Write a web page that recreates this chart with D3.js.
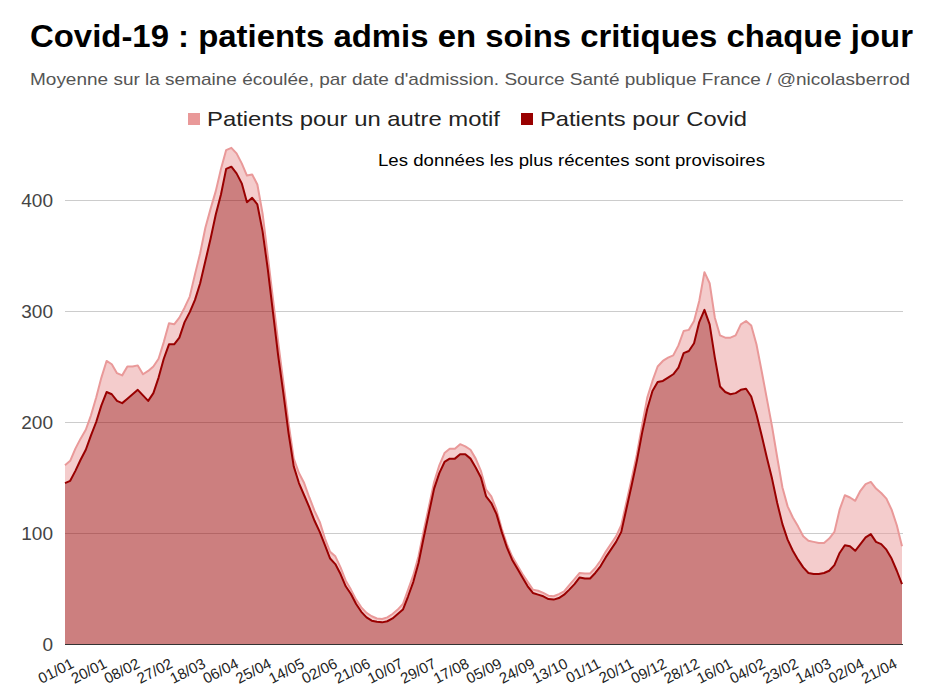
<!DOCTYPE html>
<html>
<head>
<meta charset="utf-8">
<script src="https://cdn.jsdelivr.net/npm/d3@7"></script>
<style>
  html, body { margin: 0; padding: 0; background: #fff; }
  svg { display: block; font-family: Arial, "Liberation Sans", sans-serif; }
</style>
</head>
<body>
<svg id="chart"></svg>
<script>
// one value every 3 days, starting on 1 January 2021
const startDate = '2021-01-01';
const stepDays = 3;

// patients admitted for Covid (7-day average)
const covidValues = [
  145, 147, 156, 166, 175, 188, 200, 215, 227, 225,
  219, 217, 221, 225, 229, 224, 219, 226, 240, 257,
  270, 270, 276, 290, 299, 310, 325, 345, 365, 387,
  405, 428, 430, 424, 415, 398, 402, 396, 372, 338,
  299, 260, 226, 190, 160, 145, 134, 123, 111, 101,
  89, 77, 72, 63, 52, 45, 36, 29, 24, 21,
  20, 19.5, 20.5, 23, 27, 31, 43, 56, 73, 96,
  118, 140, 154, 164, 167, 167, 171, 171, 167, 159,
  150, 133, 127, 117, 101, 87, 76, 68, 60, 52,
  46, 44.5, 43, 40.5, 40, 41.4, 44.4, 49, 54, 60,
  59, 59, 64, 70, 78, 85, 92, 101, 122, 143,
  165, 190, 212, 228, 236, 237, 240, 243, 249, 262,
  264, 271, 290, 301, 288, 258, 232, 227, 225, 226,
  229, 230, 223, 207, 188, 168, 149, 127, 108, 94,
  84, 76, 69, 64, 63, 63, 64, 66, 71, 82,
  89, 88, 84, 90, 96, 99, 92, 90, 85, 77,
  66, 54,
];

// all patients admitted (Covid + other reason)
const totalValues = [
  161, 165, 176, 185, 193, 206, 222, 240, 255, 252,
  244, 242, 250, 250, 251, 243, 246, 250, 257, 272,
  289, 288, 294, 303, 313, 333, 352, 375, 392, 408,
  428, 445, 447, 442, 433, 422, 423, 414, 388, 350,
  311, 272, 236, 199, 167, 154, 145, 132, 120, 110,
  95, 83, 79, 69, 57, 49, 40, 33, 28, 25,
  23, 22.5, 24, 27, 31, 36, 49, 62, 79, 102,
  124, 146, 161, 172, 176, 176, 180, 178, 175, 167,
  156, 139, 133, 121, 104, 90, 79, 71, 63, 56,
  49, 48, 46, 43.5, 43, 45, 47.4, 53, 58.5, 64,
  63.5, 63.5, 68.5, 75, 83, 90, 97, 107, 128, 149,
  171, 197, 222, 237, 250, 255, 258, 260, 269, 282,
  283, 291, 309, 335, 325, 294, 278, 276, 276, 278,
  288, 291, 287, 270, 246, 221, 196, 168, 141, 124,
  114, 106, 97, 93, 92, 91, 91, 95, 101, 121,
  134, 132, 129, 138, 144, 146, 140, 136, 131, 121,
  107, 88,
];

const xTickDates = [
  '2021-01-01', '2021-01-20', '2021-02-08', '2021-02-27', '2021-03-18',
  '2021-04-06', '2021-04-25', '2021-05-14', '2021-06-02', '2021-06-21',
  '2021-07-10', '2021-07-29', '2021-08-17', '2021-09-05', '2021-09-24',
  '2021-10-13', '2021-11-01', '2021-11-20', '2021-12-09', '2021-12-28',
  '2022-01-16', '2022-02-04', '2022-02-23', '2022-03-14', '2022-04-02',
  '2022-04-21',
];
const yTicks = [0, 100, 200, 300, 400];

const seriesNames = ['Patients pour un autre motif', 'Patients pour Covid'];
const seriesColors = ['#e99999', '#990000'];

const titleText = 'Covid-19 : patients admis en soins critiques chaque jour';
const subtitleText = "Moyenne sur la semaine écoulée, par date d'admission. Source Santé publique France / @nicolasberrod";
const noteText = 'Les données les plus récentes sont provisoires';

const width = 933;
const height = 696;
const plot = { left: 65, right: 903, top: 200, bottom: 644 };

const parse = d3.utcParse('%Y-%m-%d');
const start = parse(startDate);

const data = covidValues.map((covid, i) => ({
  date: d3.utcDay.offset(start, i * stepDays),
  covid,
  total: totalValues[i],
}));

const svg = d3.select('#chart').attr('width', width).attr('height', height);

const x = d3
  .scaleUtc()
  .domain([start, data[data.length - 1].date])
  .range([plot.left, plot.right - 1]);

const y = d3.scaleLinear().domain([0, 400]).range([plot.bottom, plot.top]);

// gridlines
svg
  .append('g')
  .selectAll('line')
  .data(yTicks.filter((t) => t > 0))
  .join('line')
  .attr('x1', plot.left)
  .attr('x2', plot.right)
  .attr('y1', (d) => y(d) + 0.5)
  .attr('y2', (d) => y(d) + 0.5)
  .attr('stroke', '#cccccc')
  .attr('stroke-width', 1);

// stacked areas
const covidArea = d3
  .area()
  .x((d) => x(d.date))
  .y0(y(0))
  .y1((d) => y(d.covid));

const otherArea = d3
  .area()
  .x((d) => x(d.date))
  .y0((d) => y(d.covid))
  .y1((d) => y(d.total));

svg
  .append('path')
  .datum(data)
  .attr('d', otherArea)
  .attr('fill', seriesColors[0])
  .attr('fill-opacity', 0.5);

svg
  .append('path')
  .datum(data)
  .attr('d', covidArea)
  .attr('fill', seriesColors[1])
  .attr('fill-opacity', 0.5);

svg
  .append('path')
  .datum(data)
  .attr('d', d3.line().x((d) => x(d.date)).y((d) => y(d.total)))
  .attr('fill', 'none')
  .attr('stroke', seriesColors[0])
  .attr('stroke-width', 2)
  .attr('stroke-linejoin', 'round');

svg
  .append('path')
  .datum(data)
  .attr('d', d3.line().x((d) => x(d.date)).y((d) => y(d.covid)))
  .attr('fill', 'none')
  .attr('stroke', seriesColors[1])
  .attr('stroke-width', 2)
  .attr('stroke-linejoin', 'round');

// baseline
svg
  .append('line')
  .attr('x1', plot.left)
  .attr('x2', plot.right)
  .attr('y1', y(0) + 0.5)
  .attr('y2', y(0) + 0.5)
  .attr('stroke', '#333333')
  .attr('stroke-width', 1);

// y labels
svg
  .append('g')
  .selectAll('text')
  .data(yTicks)
  .join('text')
  .attr('x', 53)
  .attr('y', (d) => y(d))
  .attr('dy', '0.36em')
  .attr('text-anchor', 'end')
  .attr('font-size', 19)
  .attr('fill', '#444444')
  .text((d) => d);

// x labels, slanted
const fmt = d3.utcFormat('%d/%m');
svg
  .append('g')
  .selectAll('text')
  .data(xTickDates.map(parse))
  .join('text')
  .attr('transform', (d) => `translate(${x(d) + 10},${plot.bottom + 23}) rotate(-27)`)
  .attr('text-anchor', 'end')
  .attr('font-size', 15)
  .attr('fill', '#222222')
  .text((d) => fmt(d));

// title block
svg
  .append('text')
  .attr('x', 30)
  .attr('y', 47)
  .attr('font-size', 31)
  .attr('font-weight', 'bold')
  .attr('fill', '#000')
  .attr('textLength', 883)
  .attr('lengthAdjust', 'spacingAndGlyphs')
  .text(titleText);

svg
  .append('text')
  .attr('x', 30)
  .attr('y', 85)
  .attr('font-size', 17)
  .attr('fill', '#555555')
  .attr('textLength', 880)
  .attr('lengthAdjust', 'spacingAndGlyphs')
  .text(subtitleText);

// legend
const legend = svg.append('g').attr('font-size', 21).attr('fill', '#222222');
const legendItems = [
  { name: seriesNames[0], color: seriesColors[0], x: 188, len: 293 },
  { name: seriesNames[1], color: seriesColors[1], x: 521, len: 207 },
];
legendItems.forEach((item) => {
  legend
    .append('rect')
    .attr('x', item.x)
    .attr('y', 113)
    .attr('width', 12)
    .attr('height', 12)
    .attr('fill', item.color);
  legend
    .append('text')
    .attr('x', item.x + 19)
    .attr('y', 126)
    .attr('textLength', item.len)
    .attr('lengthAdjust', 'spacingAndGlyphs')
    .text(item.name);
});

svg
  .append('text')
  .attr('x', 378)
  .attr('y', 166)
  .attr('font-size', 17)
  .attr('fill', '#000')
  .attr('textLength', 387)
  .attr('lengthAdjust', 'spacingAndGlyphs')
  .text(noteText);
</script>
</body>
</html>
